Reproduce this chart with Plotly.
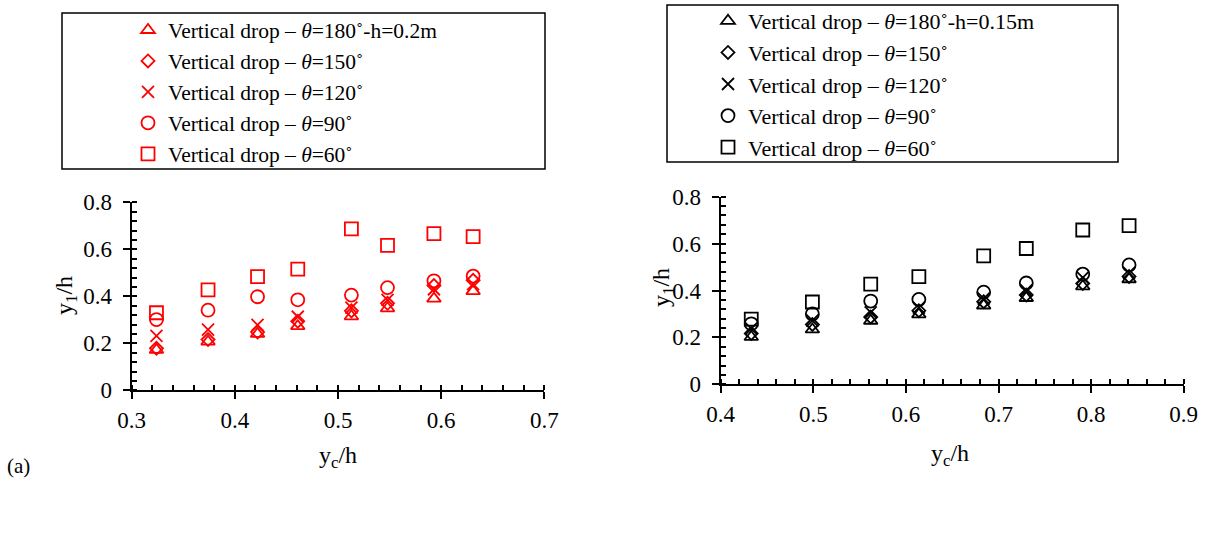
import plotly.graph_objects as go

# ---------------- data ----------------
# (a) left panel, h = 0.2 m
yc_h_left = [0.324, 0.374, 0.422, 0.461, 0.513, 0.548, 0.593, 0.631]
left_180 = [0.172, 0.207, 0.240, 0.273, 0.315, 0.349, 0.390, 0.422]
left_150 = [0.179, 0.216, 0.248, 0.294, 0.338, 0.370, 0.446, 0.468]
left_120 = [0.232, 0.258, 0.278, 0.313, 0.352, 0.385, 0.430, 0.452]
left_90 = [0.301, 0.341, 0.398, 0.385, 0.405, 0.437, 0.466, 0.486]
left_60 = [0.330, 0.427, 0.484, 0.516, 0.687, 0.617, 0.667, 0.654]

# right panel, h = 0.15 m
yc_h_right = [0.433, 0.499, 0.562, 0.614, 0.684, 0.730, 0.791, 0.841]
right_180 = [0.202, 0.234, 0.271, 0.298, 0.336, 0.368, 0.418, 0.448]
right_150 = [0.217, 0.255, 0.287, 0.314, 0.352, 0.381, 0.430, 0.460]
right_120 = [0.237, 0.272, 0.307, 0.327, 0.365, 0.400, 0.455, 0.475]
right_90 = [0.258, 0.300, 0.355, 0.362, 0.393, 0.432, 0.470, 0.509]
right_60 = [0.278, 0.351, 0.427, 0.459, 0.548, 0.579, 0.658, 0.677]

left_names = ["Vertical drop – <i>θ</i>=180˚-h=0.2m", "Vertical drop – <i>θ</i>=150˚",
              "Vertical drop – <i>θ</i>=120˚", "Vertical drop – <i>θ</i>=90˚",
              "Vertical drop – <i>θ</i>=60˚"]
right_names = ["Vertical drop – <i>θ</i>=180˚-h=0.15m", "Vertical drop – <i>θ</i>=150˚",
               "Vertical drop – <i>θ</i>=120˚", "Vertical drop – <i>θ</i>=90˚",
               "Vertical drop – <i>θ</i>=60˚"]

symbols = ["triangle-up-open", "diamond-open", "x-thin-open", "circle-open", "square-open"]
sizes = [12, 10, 12, 13, 13]

FONT = "Liberation Serif, Times New Roman, serif"
W, H = 1210, 538

fig = go.Figure()

left_series = [left_180, left_150, left_120, left_90, left_60]
right_series = [right_180, right_150, right_120, right_90, right_60]

for name, ys, sym, sz in zip(left_names, left_series, symbols, sizes):
    fig.add_trace(go.Scatter(x=yc_h_left, y=ys, mode="markers", name=name,
                             marker=dict(symbol=sym, size=sz, color="#FF0000",
                                         line=dict(color="#FF0000", width=1.8)),
                             xaxis="x", yaxis="y", legend="legend"))
for name, ys, sym, sz in zip(right_names, right_series, symbols, sizes):
    fig.add_trace(go.Scatter(x=yc_h_right, y=ys, mode="markers", name=name,
                             marker=dict(symbol=sym, size=sz, color="black",
                                         line=dict(color="black", width=1.8)),
                             xaxis="x2", yaxis="y2", legend="legend2"))

# empty traces to anchor overlay axes (inner half of major ticks)
fig.add_trace(go.Scatter(x=[], y=[], xaxis="x3", yaxis="y3", showlegend=False))
fig.add_trace(go.Scatter(x=[], y=[], xaxis="x4", yaxis="y4", showlegend=False))


def px_x(p):
    return p / W


def px_y(p):
    return 1 - p / H


tickfont = dict(family=FONT, size=23, color="black")

common = dict(showgrid=False, zeroline=False, showline=True, linecolor="black",
              linewidth=2, ticks="outside", ticklen=7, tickwidth=2, automargin=False,
              tickcolor="black", tickfont=tickfont)
overlay = dict(ticks="inside", ticklen=5, tickwidth=2, tickcolor="black", automargin=False,
               showticklabels=False, showline=False, showgrid=False, zeroline=False)

xdom_l = [px_x(131.7), px_x(544.3)]
ydom_l = [px_y(390.3), px_y(202.3)]
xdom_r = [px_x(720.7), px_x(1183.7)]
ydom_r = [px_y(384.3), px_y(196.7)]

fig.update_layout(
    width=W, height=H, margin=dict(l=0, r=0, t=0, b=0, pad=0, autoexpand=False),
    paper_bgcolor="white", plot_bgcolor="rgba(0,0,0,0)",
    font=dict(family=FONT, size=22, color="black"),
    xaxis=dict(domain=xdom_l, range=[0.3, 0.7], tick0=0.3, dtick=0.1, anchor="y",
               ticklabelstandoff=1,
               minor=dict(ticks="inside", ticklen=5, dtick=0.02, tickwidth=2, tickcolor="black"),
               **common),
    yaxis=dict(domain=ydom_l, range=[0, 0.8], tick0=0, dtick=0.2, anchor="x",
               ticklabelstandoff=6,
               minor=dict(ticks="inside", ticklen=5, dtick=0.04, tickwidth=2, tickcolor="black"),
               **common),
    xaxis2=dict(domain=xdom_r, range=[0.4, 0.9], tick0=0.4, dtick=0.1, anchor="y2",
                ticklabelstandoff=1,
                minor=dict(ticks="inside", ticklen=5, dtick=0.02, tickwidth=2, tickcolor="black"),
                **common),
    yaxis2=dict(domain=ydom_r, range=[0, 0.8], tick0=0, dtick=0.2, anchor="x2",
                ticklabelstandoff=6,
                minor=dict(ticks="inside", ticklen=5, dtick=0.04, tickwidth=2, tickcolor="black"),
                **common),
    xaxis3=dict(overlaying="x", anchor="y", range=[0.3, 0.7], tick0=0.3, dtick=0.1, **overlay),
    yaxis3=dict(overlaying="y", anchor="x", range=[0, 0.8], tick0=0, dtick=0.2, **overlay),
    xaxis4=dict(overlaying="x2", anchor="y2", range=[0.4, 0.9], tick0=0.4, dtick=0.1, **overlay),
    yaxis4=dict(overlaying="y2", anchor="x2", range=[0, 0.8], tick0=0, dtick=0.2, **overlay),
    legend=dict(x=px_x(128), y=px_y(9.5), xanchor="left", yanchor="top",
                bgcolor="rgba(0,0,0,0)", borderwidth=0,
                font=dict(family=FONT, size=21.5, color="black"), itemsizing="trace"),
    legend2=dict(x=px_x(708), y=px_y(0), xanchor="left", yanchor="top",
                 bgcolor="rgba(0,0,0,0)", borderwidth=0,
                 font=dict(family=FONT, size=22, color="black"), itemsizing="trace"),
    showlegend=True,
)

# legend frames
fig.add_shape(type="rect", xref="paper", yref="paper",
              x0=px_x(62), x1=px_x(545), y0=px_y(169), y1=px_y(13),
              line=dict(color="black", width=1.5))
fig.add_shape(type="rect", xref="paper", yref="paper",
              x0=px_x(667), x1=px_x(1118), y0=px_y(162), y1=px_y(5),
              line=dict(color="black", width=1.5))

ann_font = dict(family=FONT, size=24, color="black")
fig.add_annotation(text="y<sub>1</sub>/h", xref="paper", yref="paper", x=px_x(66), y=px_y(296),
                   xanchor="center", yanchor="middle",
                   textangle=-90, showarrow=False, font=ann_font)
fig.add_annotation(text="y<sub>c</sub>/h", xref="paper", yref="paper", x=px_x(338), y=px_y(457),
                   xanchor="center", yanchor="middle", showarrow=False, font=ann_font)
fig.add_annotation(text="y<sub>1</sub>/h", xref="paper", yref="paper", x=px_x(663), y=px_y(288),
                   xanchor="center", yanchor="middle",
                   textangle=-90, showarrow=False, font=ann_font)
fig.add_annotation(text="y<sub>c</sub>/h", xref="paper", yref="paper", x=px_x(950), y=px_y(455),
                   xanchor="center", yanchor="middle", showarrow=False, font=ann_font)
fig.add_annotation(text="(a)", xref="paper", yref="paper", x=px_x(5), y=px_y(466),
                   xanchor="left", yanchor="middle", showarrow=False,
                   font=dict(family=FONT, size=21, color="black"))

fig.write_html("out.html")
